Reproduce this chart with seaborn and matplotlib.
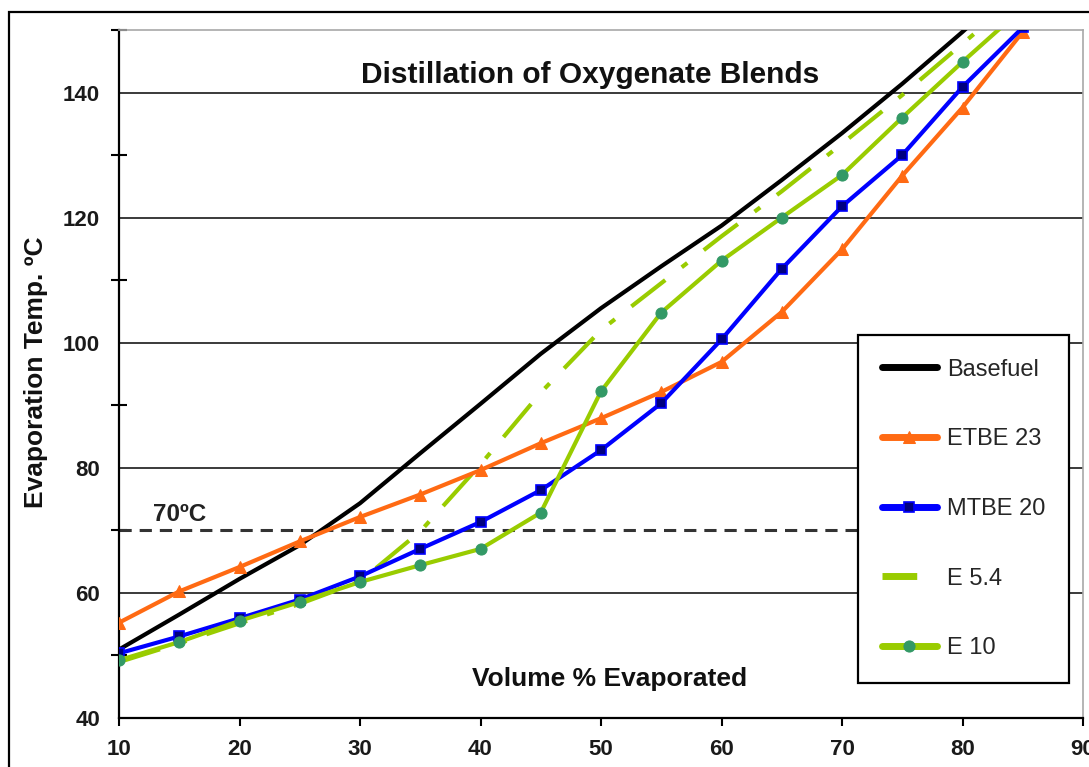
import numpy as np
import pandas as pd
import matplotlib
matplotlib.use("Agg")
import matplotlib.pyplot as plt
from matplotlib.patches import Rectangle
import seaborn as sns

# Distillation curves: temperature (°C) at each volume % evaporated
volume_pct = [10, 15, 20, 25, 30, 35, 40, 45, 50, 55, 60, 65, 70, 75, 80, 85]
basefuel = [50.9, 56.5, 62.2, 67.6, 74.3, 82.3, 90.2, 98.2, 105.5, 112.2,
            118.7, 126.0, 133.5, 141.4, 149.7, 158.5]
etbe_23 = [55.2, 60.2, 64.1, 68.2, 72.1, 75.7, 79.6, 83.9, 87.9, 92.1,
           96.9, 104.9, 114.9, 126.7, 137.6, 149.7]
mtbe_20 = [50.3, 53.0, 55.9, 58.9, 62.6, 67.0, 71.3, 76.4, 82.8, 90.3,
           100.5, 111.8, 121.8, 130.0, 140.9, 150.4]
e_5_4 = [48.9, 51.9, 55.1, 58.2, 61.8, 69.8, 80.5, 92.0, 102.0, 109.5,
         117.0, 124.2, 131.8, 139.6, 147.8, 156.0]
e_10 = [49.2, 52.1, 55.5, 58.5, 61.7, 64.4, 67.0, 72.8, 92.2, 104.8,
        113.1, 120.0, 126.8, 136.0, 144.9, 153.5]

series_names = ["Basefuel", "ETBE 23", "MTBE 20", "E 5.4", "E 10"]
threshold_temp = 70
threshold_label = "70ºC"

x_ticks = [10, 20, 30, 40, 50, 60, 70, 80, 90]
y_major = [40, 60, 80, 100, 120, 140]
y_minor = [50, 70, 90, 110, 130, 150]

df = pd.DataFrame({"vol": volume_pct, "Basefuel": basefuel, "ETBE 23": etbe_23,
                   "MTBE 20": mtbe_20, "E 5.4": e_5_4, "E 10": e_10})

sns.set_theme(style="white")
plt.rcParams["font.family"] = ["Liberation Sans", "DejaVu Sans"]

W, H = 1089, 767
fig = plt.figure(figsize=(W / 100, H / 100), dpi=100)
L, R, T, B = 119, 1083, 30, 717.7
ax = fig.add_axes([L / W, 1 - B / H, (R - L) / W, (B - T) / H])

lw = 3.0
styles = {
    "Basefuel": dict(color="black", lw=lw),
    "ETBE 23": dict(color="#FF6A13", lw=lw, marker="^", markersize=8.5,
                    markerfacecolor="#FF6A13", markeredgecolor="#FF6A13"),
    "MTBE 20": dict(color="#0000FF", lw=lw, marker="s", markersize=7,
                    markerfacecolor="#000080", markeredgecolor="#0000FF",
                    markeredgewidth=1.2),
    "E 5.4": dict(color="#99CC00", lw=lw, linestyle=(0, (10.3, 5, 1.7, 5))),
    "E 10": dict(color="#99CC00", lw=lw, marker="o", markersize=8,
                 markerfacecolor="#339966", markeredgecolor="#339966"),
}
order_z = {"Basefuel": 3, "E 5.4": 4, "ETBE 23": 5, "MTBE 20": 6, "E 10": 7}

for name in series_names:
    sns.lineplot(data=df, x="vol", y=name, ax=ax, label=name,
                 zorder=order_z[name], **styles[name])

# 70 °C reference line
ax.axhline(threshold_temp, xmin=0, xmax=0.767, color="#333333", lw=2.2,
           linestyle=(0, (4, 2.6)), zorder=2)
ax.annotate(threshold_label, xy=(0.0353, threshold_temp),
            xycoords=ax.get_yaxis_transform(), xytext=(0, 6.5),
            textcoords="offset points", ha="left", va="baseline",
            fontsize=17.5, fontweight="bold", color="#222222")

ax.set_xlim(10, 90)
ax.set_ylim(40, 150)
ax.set_xticks(x_ticks)
ax.set_yticks(y_major)
ax.set_yticks(y_minor, minor=True)
ax.set_xlabel("")
ax.set_ylabel("")

ax.grid(False)
for yv in y_major[1:]:
    ax.axhline(yv, color="#2b2b2b", lw=1.3, zorder=1)

for s in ["left", "bottom"]:
    ax.spines[s].set_color("black")
    ax.spines[s].set_linewidth(1.6)
for s in ["top", "right"]:
    ax.spines[s].set_color("#a8a8a8")
    ax.spines[s].set_linewidth(1.2)

ax.tick_params(axis="y", which="major", direction="out", length=6.5, width=1.5,
               color="black", pad=7, labelsize=16)
ax.tick_params(axis="y", which="minor", direction="inout", length=11, width=1.5,
               color="black", left=True)
ax.tick_params(axis="x", which="major", direction="out", length=6, width=1.5,
               color="black", pad=9, labelsize=16, bottom=True)
for lab in ax.get_xticklabels() + ax.get_yticklabels():
    lab.set_fontweight("bold")
    lab.set_color("#1a1a1a")

ax.text(0.4886, 0.923, "Distillation of Oxygenate Blends", transform=ax.transAxes,
        ha="center", va="baseline", fontsize=21.5, fontweight="bold", color="#111111")
ax.text(0.5093, 0.0461, "Volume % Evaporated", transform=ax.transAxes,
        ha="center", va="baseline", fontsize=19, fontweight="bold", color="#111111")
ax.text(-0.0861, 0.502, "Evaporation Temp. ºC", transform=ax.transAxes,
        ha="center", va="center", rotation=90, fontsize=19, fontweight="bold",
        color="#111111")

leg = ax.legend(loc="upper left", bbox_to_anchor=((858 - L) / (R - L), (B - 335) / (B - T)),
                fontsize=17, frameon=True, fancybox=False, framealpha=1,
                edgecolor="black", borderpad=1.0, labelspacing=2.02,
                handlelength=2.35, handletextpad=0.42, borderaxespad=0)
leg.get_frame().set_linewidth(1.6)
leg.set_zorder(10)
for line, name in zip(leg.get_lines(), series_names):
    line.set_linewidth(5)
    if name == "E 5.4":
        line.set_linestyle((0, (5.0, 3.0, 0.5, 3)))

# outer frame of the figure
fig.add_artist(Rectangle((9 / W, -0.5), 2.0, 0.5 + 1 - 12 / H,
                         transform=fig.transFigure, fill=False,
                         edgecolor="black", lw=1.6, clip_on=False))

fig.savefig("out.png", dpi=100, facecolor="white")
